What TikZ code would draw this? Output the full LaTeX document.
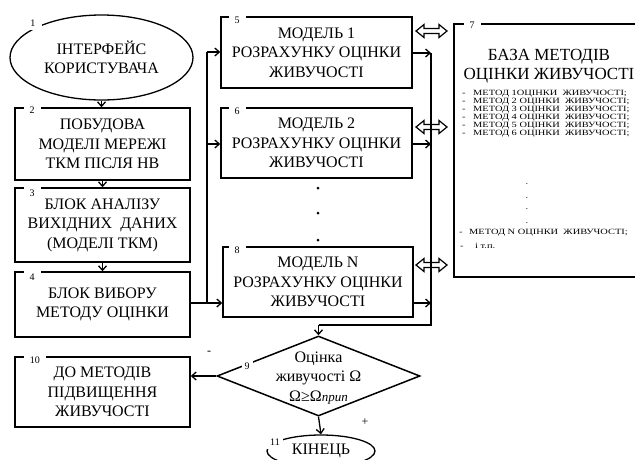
\documentclass[tikz,border=0pt]{standalone}
\usepackage{fontspec}
\setmainfont{Liberation Serif}
\newfontfamily\itemfont[FakeStretch=1.3]{Liberation Serif}
\usetikzlibrary{shapes.geometric,arrows.meta}
\begin{document}
\begin{tikzpicture}[x=1pt,y=-1pt,
  box/.style={draw, line width=1.5pt, align=center, inner sep=0pt, font=\fontsize{16}{19.5}\selectfont},
  num/.style={fill=white, inner xsep=6pt, inner ysep=3.5pt, font=\fontsize{10}{12}\selectfont},
  item/.style={inner sep=0pt, font=\itemfont\fontsize{8}{8}\selectfont},
  arr/.style={line width=1.3pt, -{Straight Barb[length=4.5pt,width=8pt]}},
  ln/.style={line width=1.3pt},
  dblarr/.pic={\draw[line width=1.2pt, line join=miter] (-15.5,0) -- (-7.5,-6.5) -- (-7.5,-2.5) -- (7.5,-2.5) -- (7.5,-6.5) -- (15.5,0) -- (7.5,6.5) -- (7.5,2.5) -- (-7.5,2.5) -- (-7.5,6.5) -- cycle;}
]
\useasboundingbox (0,0) rectangle (635,459);
\clip (0,0) rectangle (635,459);

% left column
\node[box, ellipse, line width=1.3pt, minimum width=183pt, minimum height=85pt] (n1) at (101.5,57.5) {ІНТЕРФЕЙС\\КОРИСТУВАЧА};
\node[box, minimum width=175pt, minimum height=72pt] (n2) at (102.5,144) {ПОБУДОВА\\МОДЕЛІ МЕРЕЖІ\\ТКМ ПІСЛЯ НВ};
\node[box, minimum width=175pt, minimum height=74pt] (n3) at (102.5,225) {БЛОК АНАЛІЗУ\\ВИХІДНИХ\ \ ДАНИХ\\(МОДЕЛІ ТКМ)};
\node[box, minimum width=175pt, minimum height=65pt] (n4) at (102.5,304.5) {БЛОК ВИБОРУ\\МЕТОДУ ОЦІНКИ};
\node[box, minimum width=175pt, minimum height=70pt] (n10) at (102.5,392) {ДО МЕТОДІВ\\ПІДВИЩЕННЯ\\ЖИВУЧОСТІ};

% models
\node[box, minimum width=191pt, minimum height=71pt] (n5) at (316.5,52.5) {МОДЕЛЬ 1\\РОЗРАХУНКУ ОЦІНКИ\\ЖИВУЧОСТІ};
\node[box, minimum width=191pt, minimum height=70pt] (n6) at (316.5,143) {МОДЕЛЬ 2\\РОЗРАХУНКУ ОЦІНКИ\\ЖИВУЧОСТІ};
\node[box, minimum width=190pt, minimum height=70pt] (n8) at (318,282) {МОДЕЛЬ N\\РОЗРАХУНКУ ОЦІНКИ\\ЖИВУЧОСТІ};
\fill (318,188) circle (1.5pt);
\fill (318,213) circle (1.5pt);
\fill (318,240) circle (1.5pt);

% database
\node[draw, line width=1.5pt, minimum width=200pt, minimum height=253pt, inner sep=0pt] (n7) at (554,150.5) {};
\node[align=center, inner sep=0pt, font=\fontsize{17}{18.5}\selectfont] (t7) at (549,66) {БАЗА МЕТОДІВ\\ОЦІНКИ ЖИВУЧОСТІ};
\foreach \t [count=\k] in {МЕТОД 1ОЦІНКИ\ \ ЖИВУЧОСТІ;, МЕТОД 2 ОЦІНКИ\ \ ЖИВУЧОСТІ;, МЕТОД 3 ОЦІНКИ\ \ ЖИВУЧОСТІ;, МЕТОД 4 ОЦІНКИ\ \ ЖИВУЧОСТІ;, МЕТОД 5 ОЦІНКИ\ \ ЖИВУЧОСТІ;, МЕТОД 6 ОЦІНКИ\ \ ЖИВУЧОСТІ;}{
  \node[item, anchor=base west] (d\k) at (462,{95.5+8*(\k-1)}) {-};
  \node[item, anchor=base west] (m\k) at (473,{95.5+8*(\k-1)}) {\t};
}
\foreach \y [count=\k] in {184,198,209,223}{
  \node[item, anchor=base] (p\k) at (527,\y) {.};
}
\node[item, anchor=base west] (dN) at (459,234.5) {-};
\node[item, anchor=base west] (mN) at (469,234.5) {МЕТОД N ОЦІНКИ\ \ ЖИВУЧОСТІ;};
\node[item, anchor=base west] (dE) at (460,248) {-};
\node[item, anchor=base west] (mE) at (475,248) {і т.п.};

% decision and end
\node[draw, diamond, line width=1.5pt, minimum width=203pt, minimum height=80pt, inner sep=0pt] (n9) at (318.5,376) {};
\node[align=center, inner sep=0pt, font=\fontsize{16}{19.5}\selectfont] (t9) at (318.5,378) {Оцінка\\живучості Ω\\Ω≥Ω{\itshape\fontsize{13}{13}\selectfont прип}};
\node[box, ellipse, line width=1.3pt, minimum width=108pt, minimum height=32pt] (n11) at (321,451) {КІНЕЦЬ};

% connectors
\draw[arr] (n1.south) -- (n1.south |- n2.north);
\draw[arr] (n2.south) -- (n3.north);
\draw[arr] (n3.south) -- (n4.north);

\coordinate (bt) at (207,52);
\coordinate (bm) at (207,144);
\coordinate (bl) at (207,303);
\draw[ln] (bt) -- (bl);
\draw[arr] (n4.east |- bl) -- (n8.west |- bl);
\draw[arr] (bt) -- (n5.west |- bt);
\draw[arr] (bm) -- (n6.west |- bm);

\coordinate (br1) at (431,53);
\coordinate (br2) at (431,144);
\coordinate (br3) at (431,303);
\coordinate (brb) at (431,325);
\coordinate (dt) at (318.5,325);
\draw[ln] (br1) -- (brb) -- (dt);
\draw[arr] (n5.east |- br1) -- (br1);
\draw[arr] (n6.east |- br2) -- (br2);
\draw[arr] (n8.east |- br3) -- (br3);
\draw[arr] (dt) -- (n9.north);
\draw[arr] (n9.west) -- (n10.east |- n9.west);
\draw[arr] (n9.south) -- (n11.north);

\pic at (431.5,31) {dblarr};
\pic at (431.5,127) {dblarr};
\pic at (431.5,265) {dblarr};

% numbers
\node[num] (l1) at (33,23) {1};
\node[num] (l2) at (32,110) {2};
\node[num] (l3) at (32,193) {3};
\node[num] (l4) at (32,277) {4};
\node[num] (l5) at (237,20) {5};
\node[num] (l6) at (237,111) {6};
\node[num] (l8) at (237,250) {8};
\node[num] (l7) at (472,25) {7};
\node[num, inner xsep=3pt] (l9) at (247,366) {9};
\node[num] (l10) at (35,360) {10};
\node[num, inner xsep=3pt] (l11) at (275,442) {11};
\node[font=\fontsize{12}{12}\selectfont] (minus) at (209,353) {-};
\node[font=\fontsize{12}{12}\selectfont] (plus) at (365,422) {+};
\end{tikzpicture}
\end{document}
